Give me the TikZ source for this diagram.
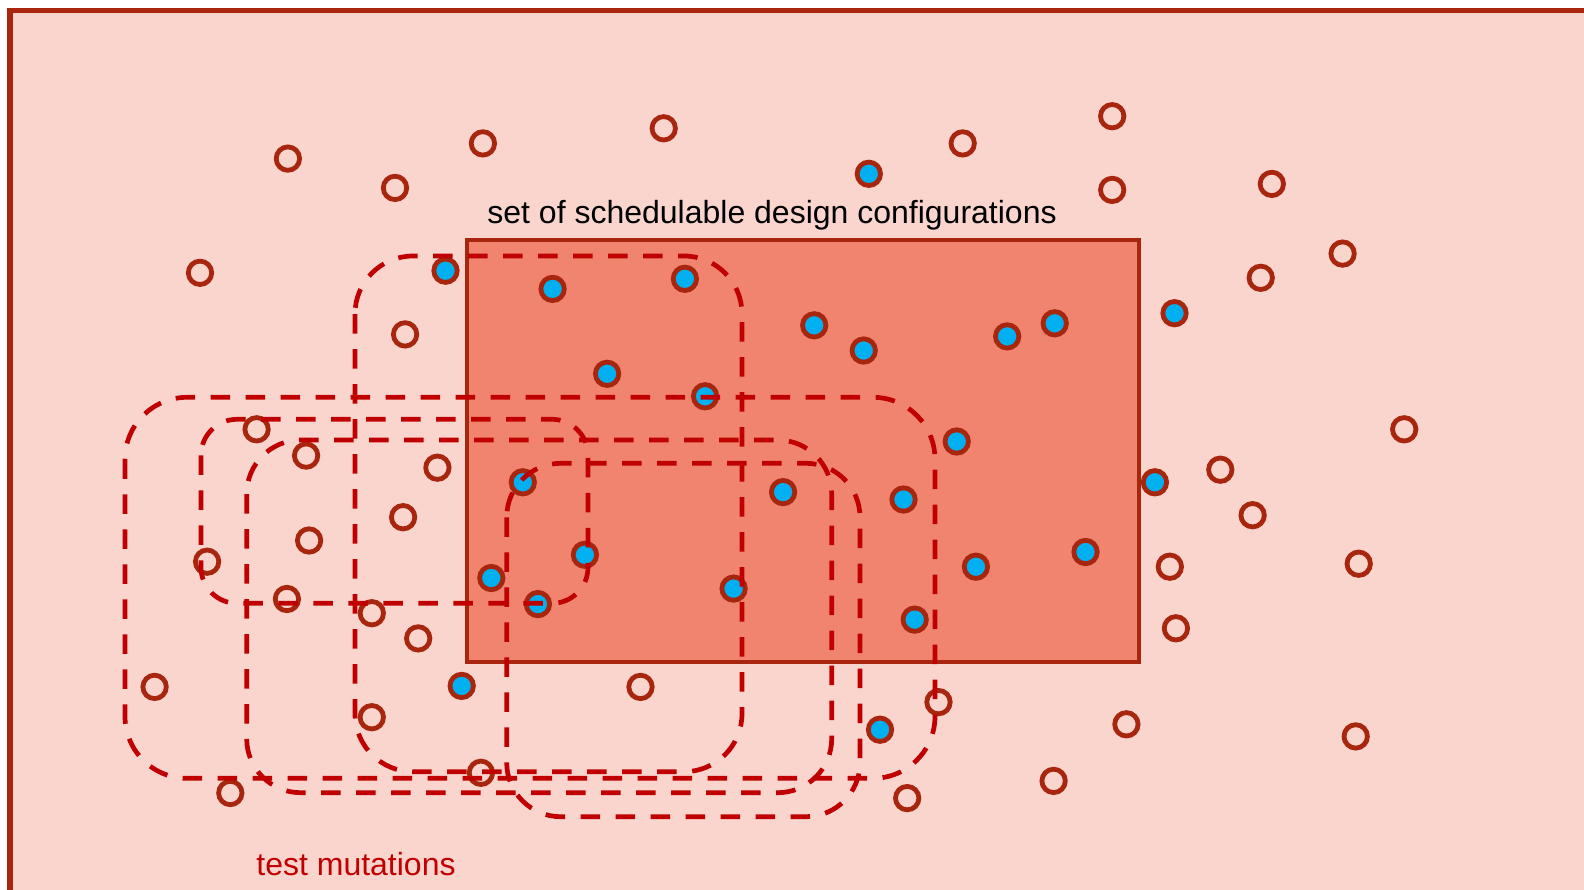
\documentclass[tikz,border=0pt]{standalone}
\usepackage{fontspec}
\setmainfont{Liberation Sans}
\definecolor{paper}{HTML}{F9D5CE}
\definecolor{schedfill}{HTML}{F1846F}
\definecolor{rust}{HTML}{A8260E}
\definecolor{mutred}{HTML}{C00000}
\definecolor{skyblue}{HTML}{00B0F0}
\begin{document}
\begin{tikzpicture}[x=0.5pt,y=-0.5pt,
  config/.style={circle,draw=rust,line width=2.4pt,minimum size=11.7pt,inner sep=0pt},
  plain/.style={config,fill=none},
  sched/.style={config,fill=skyblue},
  mutation/.style={draw=mutred,line width=2.35pt,dash pattern=on 9.75pt off 7.75pt},
  label/.style={inner sep=0pt,anchor=base west,font=\fontsize{16}{19}\selectfont}]
  \useasboundingbox (0,0) rectangle (1584,889);
  \clip (0,0) rectangle (1584,889);

  % design space frame
  \fill[white] (0,0) rectangle (1584,889);
  \draw[rust,fill=paper,line width=2.6pt] (10,10.8) rectangle (1640,950);

  % set of schedulable configurations
  \draw[rust,fill=schedfill,line width=2pt] (467,240) rectangle (1139,662);
  \node[label] (title) at (487,223) {set of schedulable design configurations};

  % configurations outside the schedulable set
  \foreach \px/\py [count=\i] in {
    287.9/158.6, 395.0/187.9, 482.9/143.4, 663.7/128.3, 962.7/143.4,
    1112.2/116.2, 1112.2/189.9, 1271.8/183.9, 200.0/272.8, 1342.6/253.6,
    1260.7/277.8, 405.1/334.4, 1404.2/429.3, 256.6/429.3, 306.1/455.6,
    437.4/467.7, 1220.3/469.7, 403.1/517.2, 1252.6/515.2, 309.1/540.5,
    207.1/561.7, 1169.8/566.7, 1358.7/563.7, 286.9/599.0, 371.8/613.2,
    418.2/638.4, 1175.9/628.3, 154.6/686.9, 640.5/686.9, 938.5/702.1,
    371.8/717.2, 1126.4/724.3, 1355.7/736.4, 480.9/772.8, 230.3/793.0,
    1053.6/780.9, 907.2/798.1}
    \node[plain] (u\i) at (\px,\py) {};

  % schedulable configurations
  \foreach \px/\py [count=\i] in {
    868.8/173.8, 445.5/270.7, 552.6/288.9, 684.9/278.8, 814.2/325.3,
    863.7/350.5, 1007.2/336.4, 1054.7/323.3, 1174.5/313.2, 607.1/373.8,
    705.1/396.3, 956.7/441.5, 522.8/482.3, 783.1/492.1, 903.5/499.5,
    1154.9/482.3, 584.9/554.8, 491.3/578.0, 537.9/604.1, 733.6/588.6,
    975.9/566.7, 1085.5/552.0, 914.7/619.6, 461.7/685.9, 880.0/729.7}
    \node[sched] (s\i) at (\px,\py) {};

  % test mutations
  \draw[mutation,rounded corners=29pt] (355,256) rectangle (742,771.7);
  \draw[mutation,rounded corners=31pt] (125,397.3) rectangle (935,778.3);
  \draw[mutation,rounded corners=18pt] (201,419.3) rectangle (588,603.3);
  \draw[mutation,rounded corners=27pt] (246.7,440) rectangle (831.7,792.7);
  \draw[mutation,rounded corners=27pt] (506.7,463.3) rectangle (860,816.7);

  \node[label,text=mutred] (mut) at (256,875) {test mutations};
\end{tikzpicture}
\end{document}
